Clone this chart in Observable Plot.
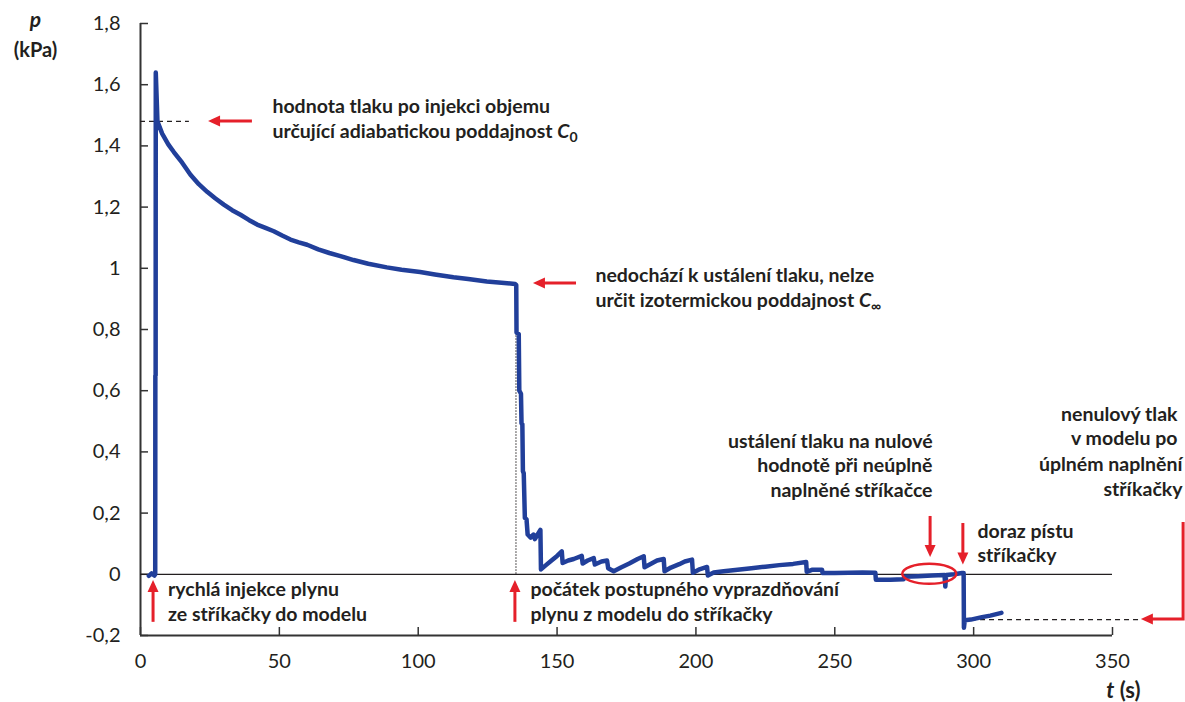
<!DOCTYPE html>
<html><head><meta charset="utf-8">
<script src="https://cdn.jsdelivr.net/npm/d3@7"></script>
<script src="https://cdn.jsdelivr.net/npm/@observablehq/plot@0.6"></script>
<style>body{margin:0;background:#fff}</style>
</head><body><div id="chart"></div>
<script>
// ---- measured series (t in s, p in kPa) ----
const injection = [[3,-0.005],[4,0.003],[5,-0.004],[5.3,0],[5.35,0.65],[5.45,0.65],[5.5,1.64],[5.9,1.535],[6.1,1.48]];
const relaxation = [[7.8,1.44],[10,1.405],[12,1.38],[15,1.345],[18,1.306],[21,1.275],[24,1.25],[27,1.228],[30,1.208],[33,1.19],[36,1.175],[39,1.158],[42,1.143],[45,1.132],[48,1.121],[51,1.107],[54,1.094],[57,1.085],[60,1.077],[64,1.062],[68,1.05],[72,1.04],[76.7,1.027],[82,1.015],[88.7,1.003],[94,0.995],[100.7,0.988],[106,0.98],[112.7,0.971],[118,0.965],[124.7,0.957],[130,0.953],[134.9,0.949]];
const drop = [[135.3,0.945],[135.4,0.79],[136.2,0.785],[136.4,0.6],[137.0,0.59],[137.2,0.494],[137.5,0.49],[137.7,0.337],[138.0,0.33],[138.4,0.184],[139.0,0.18],[139.4,0.13],[140.5,0.12],[141.5,0.13],[142,0.115],[143,0.13],[144.0,0.145],[144.2,0.016]];
const emptying = [[146,0.03],[148,0.045],[150,0.06],[151.7,0.075],[152.0,0.037],[154,0.045],[156,0.05],[158.9,0.06],[159.2,0.035],[161,0.045],[163.2,0.053],[163.6,0.032],[166,0.042],[168,0.045],[168.4,0.02],[170.4,0.01],[173,0.022],[176,0.035],[179,0.05],[181.2,0.059],[181.5,0.023],[184,0.035],[186,0.045],[188.4,0.05],[188.7,0.01],[191,0.022],[194,0.033],[196,0.042],[198.6,0.048],[198.9,0.005],[201,0.015],[204,0.024],[204.3,-0.004],[206.4,0.006],[210,0.01],[215,0.015],[220,0.02],[225,0.025],[230,0.03],[235,0.034],[239.7,0.04],[239.9,0.008],[242,0.015],[245.4,0.015],[245.6,0.004],[250,0.004],[255,0.005],[260,0.006],[264.6,0.005]];
const settled = [[264.8,-0.018],[270,-0.018],[274.8,-0.016],[275,-0.008],[280,-0.006],[285,-0.004],[289.5,-0.002],[289.8,-0.04],[290.1,-0.002],[293,0.0],[295.8,0.004],[296.4,0.004],[296.5,-0.175],[296.8,-0.15],[299,-0.148],[303,-0.14],[306,-0.135],[310,-0.126]];

// ---- axes ----
const xTicks = [0,50,100,150,200,250,300,350];
const yTicks = [-0.2,0,0.2,0.4,0.6,0.8,1,1.2,1.4,1.6,1.8];

// ---- annotations ----
const notesLeft = [
  {t:47.5, p:1.506, s:"hodnota tlaku po injekci objemu"},
  {t:47.5, p:1.427, s:"určující adiabatickou poddajnost C_0"},
  {t:163.8, p:0.954, s:"nedochází k ustálení tlaku, nelze"},
  {t:163.8, p:0.872, s:"určit izotermickou poddajnost C_∞"},
  {t:9.9, p:-0.0725, s:"rychlá injekce plynu"},
  {t:9.9, p:-0.154, s:"ze stříkačky do modelu"},
  {t:140.4, p:-0.0725, s:"počátek postupného vyprazdňování"},
  {t:140.4, p:-0.154, s:"plynu z modelu do stříkačky"},
  {t:301.4, p:0.120, s:"doraz pístu"},
  {t:301.4, p:0.0386, s:"stříkačky"}
];
const notesRight = [
  {t:285.2, p:0.414, s:"ustálení tlaku na nulové"},
  {t:285.2, p:0.334, s:"hodnotě při neúplně"},
  {t:285.2, p:0.254, s:"naplněné stříkačce"},
  {t:373.4, p:0.5026, s:"nenulový tlak"},
  {t:373.4, p:0.421, s:"v modelu po"},
  {t:375.2, p:0.339, s:"úplném naplnění"},
  {t:375.2, p:0.2575, s:"stříkačky"}
];
const arrows = [
  [[40.3,1.48],[24.5,1.48]],
  [[157.0,0.95],[141.5,0.95]],
  [[4.7,-0.157],[4.7,-0.02]],
  [[135.0,-0.157],[135.0,-0.02]],
  [[284.5,0.189],[284.5,0.055]],
  [[296.3,0.166],[296.3,0.03]],
  [[375.6,0.169],[375.6,-0.148],[360.4,-0.148]]
];
const dashedLevels = [{p:1.48, t1:0, t2:17.6},{p:-0.148, t1:296, t2:360}];
const emptyingStart = [{t:135.2, p1:0, p2:0.93}];
const settledMark = [{t:284.2, p:0}];

const RED = "#e5202a", BLUE = "#213f9a", INK = "#231f20";
const series = [...injection, ...relaxation, ...drop, ...emptying, ...settled].map(([t,p]) => ({t,p}));
const fmt = d => String(d).replace(".", ",");

function arrowMark(list) {
  return (index, scales) => {
    const g = d3.create("svg:g");
    for (const a of list) {
      const pts = a.map(([t,p]) => [scales.x(t), scales.y(p)]);
      const n = pts.length;
      const [tx, ty] = pts[n-1], [px, py] = pts[n-2];
      const dx = tx - px, dy = ty - py, L = Math.hypot(dx, dy);
      const ux = dx/L, uy = dy/L, hl = 12, hw = 5.5;
      const bx = tx - ux*hl, by = ty - uy*hl;
      const shaft = pts.slice(0, n-1).concat([[bx + ux, by + uy]]);
      g.append("path").attr("d", d3.line()(shaft)).attr("fill","none")
        .attr("stroke", RED).attr("stroke-width", 3);
      g.append("path").attr("d", `M${tx},${ty}L${bx - uy*hw},${by + ux*hw}L${bx + uy*hw},${by - ux*hw}Z`)
        .attr("fill", RED);
    }
    return g.node();
  };
}
function ellipseMark(list) {
  return (index, scales) => {
    const g = d3.create("svg:g");
    for (const e of list) {
      g.append("ellipse").attr("cx", scales.x(e.t)).attr("cy", scales.y(e.p))
        .attr("rx", 27).attr("ry", 10).attr("fill","none").attr("stroke", RED).attr("stroke-width", 2.5);
    }
    return g.node();
  };
}

const noteStyle = {x: "t", y: "p", text: "s", lineAnchor: "bottom", fontWeight: "bold", fontSize: 19.5, fill: INK};

const plot = Plot.plot({
  width: 1185, height: 702,
  marginLeft: 140, marginRight: 73, marginTop: 23, marginBottom: 67,
  x: {domain: [0, 350]},
  y: {domain: [-0.2, 1.8]},
  style: {fontFamily: "Lato, sans-serif", fontSize: "20px", color: INK, background: "#fff"},
  marks: [
    Plot.axisY(yTicks, {tickSize: 0, tickPadding: 20, tickFormat: fmt, label: null, fontSize: 20}),
    Plot.axisY(yTicks, {tickSize: -8, fill: "none", label: null, stroke: "#333", strokeWidth: 1.5}),
    Plot.axisX(xTicks, {tickSize: 0, tickPadding: 18, label: null, fontSize: 20}),
    Plot.axisX(xTicks, {tickSize: -8, fill: "none", label: null, stroke: "#333", strokeWidth: 1.5}),
    Plot.ruleX([0], {stroke: "#333", strokeWidth: 2}),
    Plot.ruleY([-0.2], {stroke: "#333", strokeWidth: 2}),
    Plot.ruleY([0], {stroke: INK, strokeWidth: 1.2}),
    Plot.ruleX(emptyingStart, {x: "t", y1: "p1", y2: "p2", stroke: INK, strokeWidth: 1, strokeDasharray: "1.5,1.5"}),
    Plot.ruleY(dashedLevels, {y: "p", x1: "t1", x2: "t2", stroke: INK, strokeWidth: 1.2, strokeDasharray: "5,4"}),
    Plot.line(series, {x: "t", y: "p", stroke: BLUE, strokeWidth: 4.5, strokeLinejoin: "round"}),
    ellipseMark(settledMark),
    arrowMark(arrows),
    Plot.text(notesLeft, {...noteStyle, textAnchor: "start"}),
    Plot.text(notesRight, {...noteStyle, textAnchor: "end"}),
    Plot.text(["p"], {frameAnchor: "top-left", dx: -105, dy: 3, lineAnchor: "bottom", textAnchor: "middle",
      fontWeight: "bold", fontStyle: "italic", fontSize: 21, fill: INK}),
    Plot.text(["(kPa)"], {frameAnchor: "top-left", dx: -105, dy: 33, lineAnchor: "bottom", textAnchor: "middle",
      fontWeight: "bold", fontSize: 20, fill: INK}),
    Plot.text(["t (s)"], {frameAnchor: "bottom-right", dx: 28, dy: 62, lineAnchor: "bottom", textAnchor: "end",
      fontWeight: "bold", fontSize: 22, fill: INK})
  ]
});

// rich text: italic symbols and subscripts
d3.select(plot).selectAll("text").each(function() {
  const el = d3.select(this);
  const s = this.textContent;
  const m = s.match(/^(.*) C_(.)$/);
  if (m) {
    el.text(null);
    el.append("tspan").text(m[1] + " ");
    el.append("tspan").attr("font-style", "italic").text("C");
    el.append("tspan").attr("font-size", "0.72em").attr("dy", "0.28em").text(m[2]);
  } else if (s === "t (s)") {
    el.text(null);
    el.append("tspan").attr("font-style", "italic").text("t");
    el.append("tspan").text(" (s)");
  }
});

document.getElementById("chart").appendChild(plot);
</script>
</body></html>
